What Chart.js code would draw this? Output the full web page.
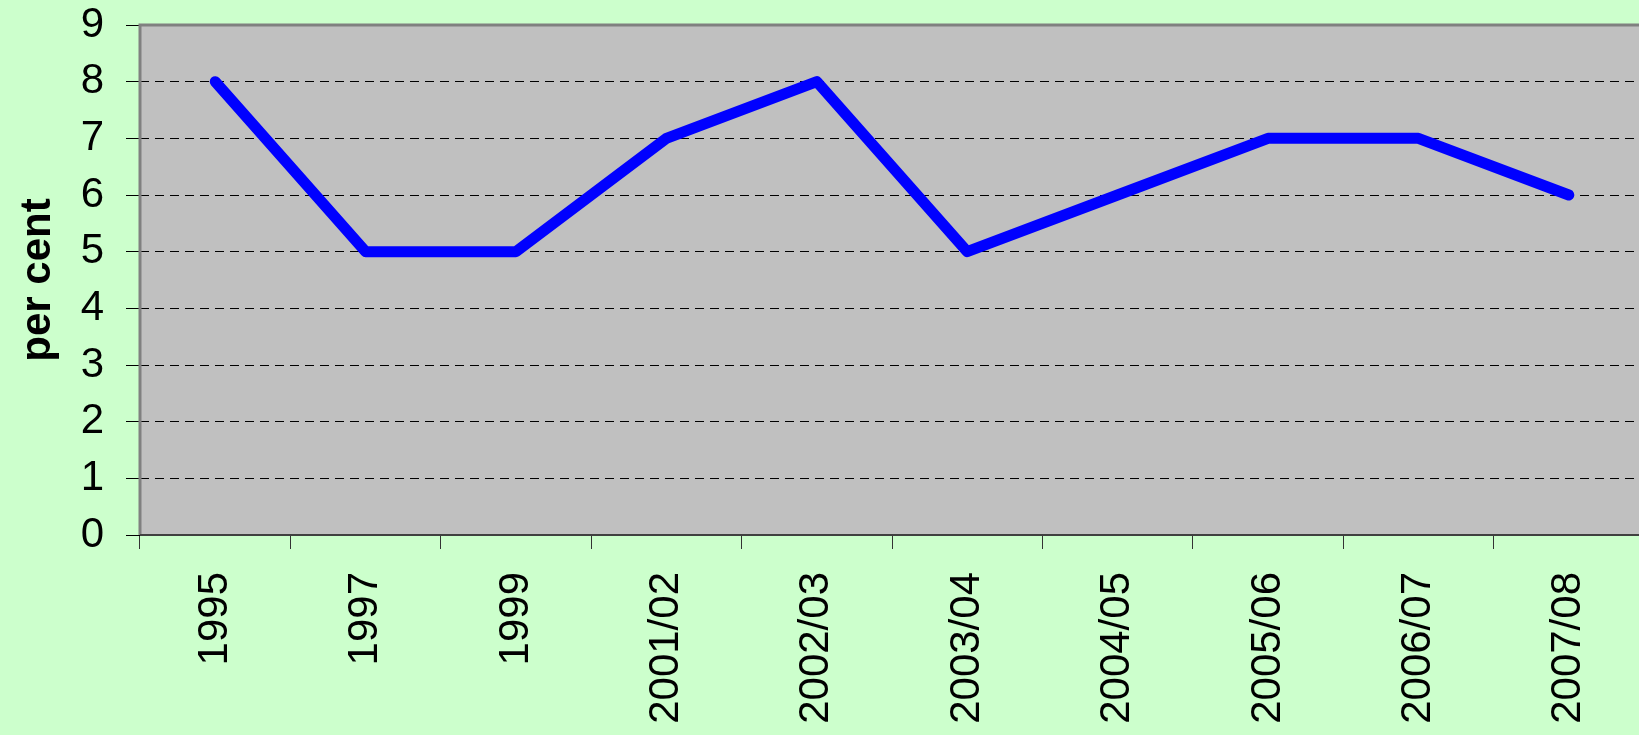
<!DOCTYPE html>
<html>
<head>
<meta charset="utf-8">
<script src="https://cdn.jsdelivr.net/npm/chart.js@4.4.1/dist/chart.umd.min.js"></script>
<style>
  html, body { margin: 0; padding: 0; background: #CCFFCC; overflow: hidden; width: 1639px; height: 735px; }
  canvas { display: block; }
</style>
</head>
<body>
<canvas id="c" width="1644" height="735" style="width:1644px;height:735px"></canvas>
<script>
const categories = ['1995', '1997', '1999', '2001/02', '2002/03', '2003/04', '2004/05', '2005/06', '2006/07', '2007/08'];
const perCent = [8, 5, 5, 7, 8, 5, 6, 7, 7, 6];
const yMin = 0;
const yMax = 9;
const yStep = 1;
const yTitle = 'per cent';

const FONT = '"Liberation Sans", Arial, Helvetica, sans-serif';

const frame = {
  id: 'frame',
  beforeDraw(chart) {
    const { ctx, chartArea: a } = chart;
    ctx.save();
    ctx.fillStyle = '#C0C0C0';
    ctx.fillRect(a.left, a.top, a.right - a.left, a.bottom - a.top);
    ctx.restore();
  },
  afterDatasetsDraw(chart) {
    const { ctx, chartArea: a } = chart;
    ctx.save();
    ctx.strokeStyle = '#808080';
    ctx.lineWidth = 3;
    ctx.beginPath();
    ctx.moveTo(a.left, a.bottom);
    ctx.lineTo(a.left, a.top);
    ctx.lineTo(a.right + 5, a.top);
    ctx.stroke();
    ctx.strokeStyle = '#404040';
    ctx.lineWidth = 2;
    ctx.beginPath();
    ctx.moveTo(a.left, a.bottom);
    ctx.lineTo(a.right + 5, a.bottom);
    ctx.stroke();
    ctx.restore();
  }
};

new Chart(document.getElementById('c'), {
  type: 'line',
  data: {
    labels: categories,
    datasets: [{
      data: perCent,
      borderColor: '#0000FF',
      borderWidth: 11,
      borderCapStyle: 'round',
      borderJoinStyle: 'round',
      pointRadius: 0,
      pointHoverRadius: 0,
      tension: 0,
      fill: false,
      clip: false
    }]
  },
  options: {
    responsive: false,
    devicePixelRatio: 1,
    animation: false,
    events: [],
    layout: { padding: { top: 25, right: 0, bottom: 0, left: 0 } },
    plugins: { legend: { display: false }, tooltip: { enabled: false } },
    scales: {
      x: {
        type: 'category',
        offset: true,
        afterFit(scale) { scale.height = 200; scale.paddingLeft = 0; scale.paddingRight = 0; },
        grid: {
          offset: true,
          drawOnChartArea: false,
          drawTicks: true,
          tickLength: 14,
          tickColor: '#333333',
          tickWidth: 1
        },
        border: { display: false },
        ticks: {
          autoSkip: false,
          minRotation: 90,
          maxRotation: 90,
          padding: 23,
          color: '#000000',
          font: { family: FONT, size: 42 }
        }
      },
      y: {
        min: yMin,
        max: yMax,
        afterFit(scale) { scale.width = 140; scale.paddingTop = 0; scale.paddingBottom = 0; },
        grid: {
          color: (ctx) => (ctx.tick && (ctx.tick.value === yMin || ctx.tick.value === yMax)) ? 'rgba(0,0,0,0)' : '#000000',
          lineWidth: 1,
          drawTicks: true,
          tickLength: 14,
          tickColor: '#000000',
          tickWidth: 1,
          tickBorderDash: []
        },
        border: { display: false, dash: [9, 6] },
        ticks: {
          stepSize: yStep,
          padding: 22,
          color: '#000000',
          font: { family: FONT, size: 42 }
        },
        title: {
          display: true,
          text: yTitle,
          color: '#000000',
          padding: { top: 13, bottom: 0 },
          font: { family: FONT, size: 42, weight: 'bold' }
        }
      }
    }
  },
  plugins: [frame]
});
</script>
</body>
</html>
